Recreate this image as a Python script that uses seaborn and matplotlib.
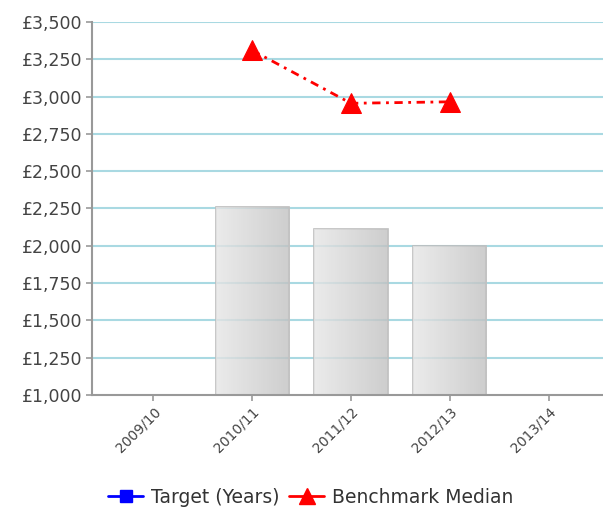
import numpy as np
import pandas as pd
import matplotlib
matplotlib.use("Agg")
import matplotlib.pyplot as plt
import seaborn as sns
from matplotlib.lines import Line2D

years = ["2009/10", "2010/11", "2011/12", "2012/13", "2013/14"]
actual_cost = [np.nan, 2260, 2110, 2000, np.nan]
benchmark_median = [np.nan, 3310, 2955, 2965, np.nan]
y_ticks = [1000, 1250, 1500, 1750, 2000, 2250, 2500, 2750, 3000, 3250, 3500]

sns.set_theme(style="white")
plt.rcParams["font.family"] = ["DejaVu Sans"]

df = pd.DataFrame({"year": years, "cost": actual_cost, "median": benchmark_median})

fig = plt.figure(figsize=(6.03, 5.16), dpi=100)
ax = fig.add_axes([0.1526, 0.2345, 0.8474, 0.7229])

# alternating background bands
for i in range(len(y_ticks) - 1):
    if i % 2 == 1:
        ax.axhspan(y_ticks[i], y_ticks[i + 1], color="#f1f3fc", zorder=0, lw=0)
for t in y_ticks[1:]:
    ax.axhline(t, color="#a9d9e2", lw=1.5, zorder=1)

sns.barplot(data=df, x="year", y="cost", ax=ax, width=0.74, color="#d8d8d8",
            edgecolor="#bdbdbd", linewidth=1.2, zorder=2)

# gradient fill on the bars
grad = np.linspace(0, 1, 64).reshape(1, -1)
cmap = matplotlib.colors.LinearSegmentedColormap.from_list("g", ["#e6e6e6", "#c2c2c2"])
for p in ax.patches:
    h = p.get_height()
    if np.isnan(h) or h == 0:
        continue
    x0 = p.get_x()
    w = p.get_width()
    p.set_facecolor("none")
    im = ax.imshow(grad, cmap=cmap, extent=[x0, x0 + w, 1000, h], aspect="auto",
                   alpha=0.8, zorder=2.5)
    im.set_clip_path(p)

sns.lineplot(data=df, x="year", y="median", ax=ax, color="red", lw=2,
             linestyle=(0, (3, 2, 1, 2)), marker="^", markersize=15,
             markeredgecolor="red", zorder=4, sort=False)

ax.set_ylim(1000, 3500)
ax.set_xlim(-0.62, 4.55)
ax.set_yticks(y_ticks)
ax.set_yticklabels([f"£{v:,}" for v in y_ticks], fontsize=12.5, color="#444444")
ax.set_xticks(range(len(years)))
ax.set_xticklabels(years, rotation=45, ha="right", rotation_mode="anchor",
                   fontsize=10, color="#444444")
ax.set_xlabel("")
ax.set_ylabel("")
ax.tick_params(axis="both", which="both", length=4, width=1.2, color="#999999",
               left=True, bottom=True, direction="out", pad=3)
for s in ["top", "right"]:
    ax.spines[s].set_visible(False)
for s in ["left", "bottom"]:
    ax.spines[s].set_color("#999999")
    ax.spines[s].set_linewidth(1.5)

handles = [
    Line2D([0], [0], color="blue", lw=2, marker="s", markersize=9),
    Line2D([0], [0], color="red", lw=2, marker="^", markersize=11),
]
fig.legend(handles, ["Target (Years)", "Benchmark Median"], loc="lower center",
           bbox_to_anchor=(0.515, -0.015), ncol=2, frameon=False, fontsize=13.5,
           handlelength=1.9, handletextpad=0.4, columnspacing=0.5,
           labelcolor="#333333")

fig.savefig("out.png", dpi=100)
